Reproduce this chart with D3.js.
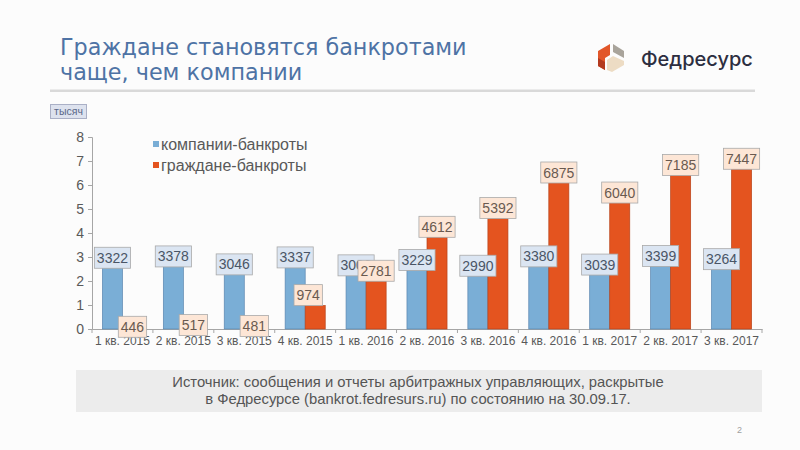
<!DOCTYPE html>
<html><head><meta charset="utf-8">
<script src="https://cdn.jsdelivr.net/npm/d3@7"></script>
<style>
html,body{margin:0;padding:0;background:#fcfcfc;}
svg{display:block;}
</style></head>
<body>
<svg id="c" width="800" height="450"></svg>
<script>
const categories = ["1 кв. 2015","2 кв. 2015","3 кв. 2015","4 кв. 2015","1 кв. 2016","2 кв. 2016","3 кв. 2016","4 кв. 2016","1 кв. 2017","2 кв. 2017","3 кв. 2017"];
const companies = [3322,3378,3046,3337,3006,3229,2990,3380,3039,3399,3264];
const citizens  = [446,517,481,974,2781,4612,5392,6875,6040,7185,7447];
const seriesNames = ["компании-банкроты","граждане-банкроты"];
const yTicks = [0,1,2,3,4,5,6,7,8];
const titleLines = ["Граждане становятся банкротами","чаще, чем компании"];
const sourceLines = ["Источник: сообщения и отчеты арбитражных управляющих, раскрытые","в Федресурсе (bankrot.fedresurs.ru) по состоянию на 30.09.17."];
const unitLabel = "тысяч";
const brand = "Федресурс";
const pageNo = "2";

const svg = d3.select("#c");
const W = 800, H = 450;
svg.append("rect").attr("width",W).attr("height",H).attr("fill","#fcfcfc");

// Title
const title = svg.append("text").attr("x",60).attr("y",55)
  .attr("font-family","DejaVu Sans, Verdana, sans-serif").attr("font-size",22.3)
  .attr("fill","#4e73a5");
titleLines.forEach((t,i)=>title.append("tspan").attr("x",60).attr("y",55+25*i).text(t));

// rule
svg.append("rect").attr("x",50).attr("y",89.5).attr("width",705).attr("height",2.5).attr("fill","#d9d9d9");

// logo
const logo = svg.append("g");
logo.append("polygon").attr("points","598,51 610,44 610,55 605,58 605,70 598,66").attr("fill","#e2572a");
logo.append("polygon").attr("points","598,58 605,62 605,70 598,66").attr("fill","#b33a1f");
logo.append("polygon").attr("points","613,44 624,51 624,58 613,52").attr("fill","#a9a49b");
logo.append("polygon").attr("points","607,60 613,56 624,61 624,65 612,72 607,70").attr("fill","#eddcc4");
svg.append("text").attr("x",641).attr("y",66).attr("font-family","Inter, 'Noto Sans', sans-serif")
  .attr("font-size",20).attr("font-weight",500).attr("fill","#2c2e40").text(brand);

// unit box
svg.append("rect").attr("x",50.5).attr("y",104.5).attr("width",36).attr("height",14)
  .attr("fill","#dde2ee").attr("stroke","#aab0c6").attr("stroke-width",1);
svg.append("text").attr("x",68.5).attr("y",115).attr("text-anchor","middle")
  .attr("font-family","Liberation Sans, Arial, sans-serif").attr("font-size",10.5).attr("fill","#5a6888").text(unitLabel);

// scales
const x0 = d3.scaleBand().domain(categories).range([92,762]).padding(0);
const keys = ["c","p"];
const x1 = d3.scaleBand().domain(keys).range([0,x0.bandwidth()]).paddingInner(0).paddingOuter(0.52);
const y = d3.scaleLinear().domain([0,8]).range([329,137]);

const axisColor = "#a6a6a6";
const textColor = "#595959";
const fontF = "Liberation Sans, Arial, sans-serif";

// y axis
const ya = svg.append("g").attr("transform","translate(92,0)")
  .call(d3.axisLeft(y).tickValues(yTicks).tickSize(4).tickFormat(d3.format("d")));
ya.select(".domain").attr("stroke",axisColor);
ya.selectAll(".tick line").attr("stroke",axisColor);
ya.selectAll(".tick text").attr("font-family",fontF).attr("font-size",14).attr("fill",textColor).attr("dx","-1");

// x axis
const xa = svg.append("g").attr("transform","translate(0,329)")
  .call(d3.axisBottom(x0).tickSize(0).tickPadding(7));
xa.select(".domain").attr("stroke",axisColor);
xa.selectAll(".tick text").attr("font-family",fontF).attr("font-size",12).attr("fill",textColor);
const bounds = categories.map(c=>x0(c)).concat([x0.range()[1]]);
xa.selectAll("line.bt").data(bounds).enter().append("line").attr("class","bt")
  .attr("x1",d=>d).attr("x2",d=>d).attr("y1",0).attr("y2",4).attr("stroke",axisColor);

// data
const data = categories.map((c,i)=>({cat:c, c:companies[i], p:citizens[i]}));
const fills = {c:"#7aaed6", p:"#e4541f"};
const strokes = {c:"#5a86b0", p:"#b8431a"};
const lblFill = {c:"#dbe5f2", p:"#fde6d6"};

const bars = svg.append("g");
keys.forEach(k=>{
  bars.selectAll("rect."+k).data(data).enter().append("rect").attr("class",k)
    .attr("x",d=>x0(d.cat)+x1(k)).attr("width",x1.bandwidth())
    .attr("y",d=>y(d[k]/1000)).attr("height",d=>y(0)-y(d[k]/1000))
    .attr("fill",fills[k]).attr("stroke",strokes[k]).attr("stroke-width",0.7);
});

// labels
const lblH = 21;
keys.forEach(k=>{
  data.forEach(d=>{
    let cx = x0(d.cat)+x1(k)+x1.bandwidth()/2;
    const top = y(d[k]/1000);
    const bh = y(0)-top;
    let by = top-2;
    if (bh > lblH && bh < lblH*1.5) { by = top - lblH; cx -= 7; }
    const g = svg.append("g");
    const t = g.append("text").attr("x",cx).attr("y",by+lblH/2+5).attr("text-anchor","middle")
      .attr("font-family",fontF).attr("font-size",14).attr("fill",k==="c"?"#4a5566":"#6a5a50").text(d[k]);
    const w = t.node().getComputedTextLength()+5;
    g.insert("rect","text").attr("x",cx-w/2).attr("y",by).attr("width",w).attr("height",lblH)
      .attr("fill",lblFill[k]).attr("stroke","#a9a9a9").attr("stroke-width",0.8);
  });
});

// legend
const leg = svg.append("g");
seriesNames.forEach((n,i)=>{
  const ly = 144+21*i;
  leg.append("rect").attr("x",153).attr("y",ly-3).attr("width",6).attr("height",6).attr("fill",fills[keys[i]]);
  leg.append("text").attr("x",161).attr("y",ly+5.5).attr("font-family",fontF).attr("font-size",16)
    .attr("fill",textColor).text(n);
});

// source box
svg.append("rect").attr("x",76).attr("y",370).attr("width",686).attr("height",42).attr("fill","#ececec");
sourceLines.forEach((s,i)=>{
  svg.append("text").attr("x",418).attr("y",387+17*i).attr("text-anchor","middle")
    .attr("font-family",fontF).attr("font-size",14.8).attr("fill","#555555").text(s);
});
svg.append("text").attr("x",737).attr("y",433).attr("font-family",fontF).attr("font-size",9)
  .attr("fill","#a0a0a0").text(pageNo);
</script>
</body></html>
